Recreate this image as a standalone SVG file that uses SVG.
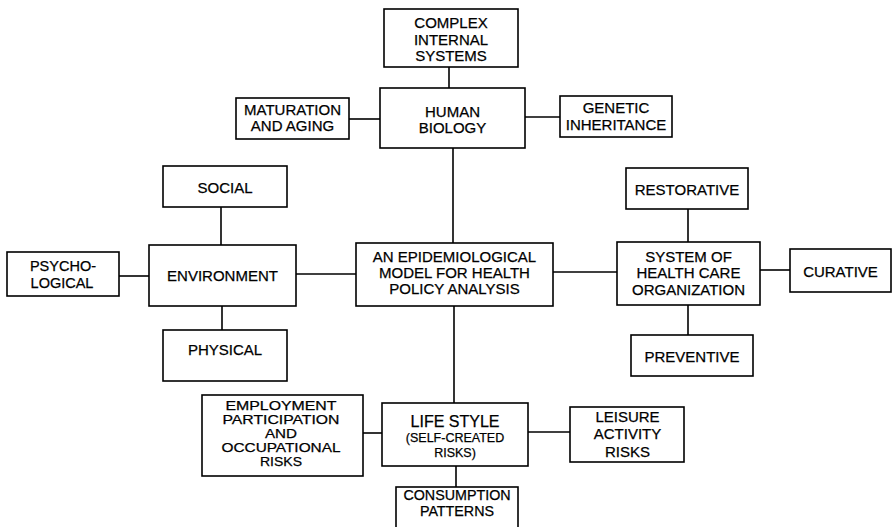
<svg xmlns="http://www.w3.org/2000/svg" width="893" height="527" viewBox="0 0 893 527">
<style>
rect{fill:#fff;stroke:#000;stroke-width:1.6}
.c line{stroke:#000;stroke-width:1.6}
text{font-family:"Liberation Sans",Arial,sans-serif;font-size:15px;fill:#000;text-anchor:middle;stroke:#000;stroke-width:0.25}
.t{font-size:13.5px}
</style>
<rect x="0" y="0" width="893" height="527" style="stroke:none"/>
<g class="c" id="connectors">
<line x1="449" y1="67" x2="449" y2="88"/>
<line x1="349" y1="119" x2="380" y2="119"/>
<line x1="525" y1="117" x2="560" y2="117"/>
<line x1="453" y1="148" x2="453" y2="243"/>
<line x1="221" y1="207" x2="221" y2="245"/>
<line x1="119" y1="276" x2="149" y2="276"/>
<line x1="296" y1="274" x2="356" y2="274"/>
<line x1="222" y1="306" x2="222" y2="330"/>
<line x1="553" y1="272" x2="617" y2="272"/>
<line x1="688" y1="209" x2="688" y2="242"/>
<line x1="760" y1="270" x2="790" y2="270"/>
<line x1="688" y1="305" x2="688" y2="335"/>
<line x1="454" y1="306" x2="454" y2="403"/>
<line x1="363" y1="433" x2="382" y2="433"/>
<line x1="528" y1="432" x2="570" y2="432"/>
<line x1="456" y1="466" x2="456" y2="487"/>
</g>
<g id="complex"><rect x="384" y="9" width="134" height="58"/>
<text x="451" y="28">COMPLEX</text><text x="451" y="45">INTERNAL</text><text x="451" y="61">SYSTEMS</text></g>
<g id="human"><rect x="380" y="88" width="145" height="60"/>
<text x="452.5" y="117">HUMAN</text><text x="452.5" y="133">BIOLOGY</text></g>
<g id="maturation"><rect x="236" y="98" width="113" height="41"/>
<text x="292.5" y="115">MATURATION</text><text x="292.5" y="131">AND AGING</text></g>
<g id="genetic"><rect x="560" y="96" width="112" height="41"/>
<text x="616" y="113">GENETIC</text><text x="616" y="130">INHERITANCE</text></g>
<g id="social"><rect x="163" y="166" width="124" height="41"/>
<text x="225" y="193">SOCIAL</text></g>
<g id="environment"><rect x="149" y="245" width="147" height="61"/>
<text x="222.5" y="281">ENVIRONMENT</text></g>
<g id="psycho"><rect x="7" y="252" width="112" height="44"/>
<text x="63" y="271" style="font-size:14.5px">PSYCHO-</text><text x="62" y="288" style="font-size:14.5px">LOGICAL</text></g>
<g id="physical"><rect x="163" y="330" width="124" height="51"/>
<text x="225" y="355">PHYSICAL</text></g>
<g id="center"><rect x="356" y="243" width="197" height="63"/>
<text x="454.5" y="262">AN EPIDEMIOLOGICAL</text><text x="454.5" y="278">MODEL FOR HEALTH</text><text x="454.5" y="294">POLICY ANALYSIS</text></g>
<g id="restorative"><rect x="626" y="168" width="122" height="41"/>
<text x="687" y="195">RESTORATIVE</text></g>
<g id="system"><rect x="617" y="242" width="143" height="63"/>
<text x="688.5" y="262">SYSTEM OF</text><text x="688.5" y="278">HEALTH CARE</text><text x="688.5" y="295">ORGANIZATION</text></g>
<g id="curative"><rect x="790" y="249" width="101" height="43"/>
<text x="840.5" y="277">CURATIVE</text></g>
<g id="preventive"><rect x="631" y="335" width="122" height="41"/>
<text x="692" y="362">PREVENTIVE</text></g>
<g id="employment"><rect x="202" y="395" width="161" height="81"/>
<text class="t" x="281" y="410" textLength="111" lengthAdjust="spacingAndGlyphs">EMPLOYMENT</text>
<text class="t" x="281" y="424" textLength="117" lengthAdjust="spacingAndGlyphs">PARTICIPATION</text>
<text class="t" x="281" y="438" textLength="32" lengthAdjust="spacingAndGlyphs">AND</text>
<text class="t" x="281" y="452" textLength="119" lengthAdjust="spacingAndGlyphs">OCCUPATIONAL</text>
<text class="t" x="281" y="466" textLength="42" lengthAdjust="spacingAndGlyphs">RISKS</text></g>
<g id="lifestyle"><rect x="382" y="403" width="146" height="63"/>
<text x="455" y="427" style="font-size:16px">LIFE STYLE</text><text x="455" y="442" style="font-size:12.5px">(SELF-CREATED</text><text x="455" y="457" style="font-size:12.5px">RISKS)</text></g>
<g id="leisure"><rect x="570" y="407" width="114" height="55"/>
<text x="627.5" y="422">LEISURE</text><text x="627.5" y="439">ACTIVITY</text><text x="627.5" y="457">RISKS</text></g>
<g id="consumption"><rect x="396" y="487" width="122" height="45"/>
<text x="457" y="500" style="font-size:14.3px">CONSUMPTION</text><text x="457" y="516" style="font-size:14.3px">PATTERNS</text></g>
</svg>
